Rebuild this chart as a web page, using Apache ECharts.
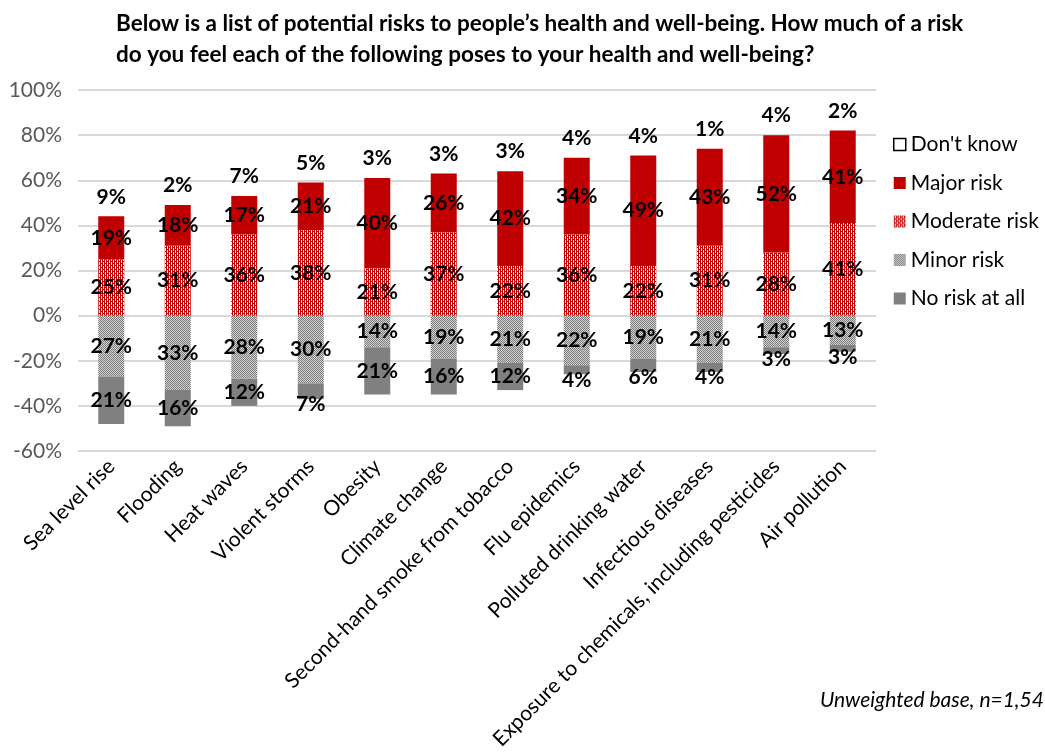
<!DOCTYPE html>
<html>
<head>
<meta charset="utf-8">
<script src="https://cdn.jsdelivr.net/npm/echarts@6/dist/echarts.min.js"></script>
<style>
  html, body { margin: 0; padding: 0; background: #fff; }
  #chart { width: 1045px; height: 754px; }
</style>
</head>
<body>
<div id="chart"></div>
<script>
// Survey categories, ordered by total perceived risk
const categories = [
  'Sea level rise', 'Flooding', 'Heat waves', 'Violent storms', 'Obesity',
  'Climate change', 'Second-hand smoke from tobacco', 'Flu epidemics',
  'Polluted drinking water', 'Infectious diseases',
  'Exposure to chemicals, including pesticides', 'Air pollution'
];
// Shares of respondents (%); risk answers stack upward, no-risk answers downward
const moderateRisk = [25, 31, 36, 38, 21, 37, 22, 36, 22, 31, 28, 41];
const majorRisk    = [19, 18, 17, 21, 40, 26, 42, 34, 49, 43, 52, 41];
const dontKnow     = [9, 2, 7, 5, 3, 3, 3, 4, 4, 1, 4, 2];
const minorRisk    = [-27, -33, -28, -30, -14, -19, -21, -22, -19, -21, -14, -13];
const noRisk       = [-21, -16, -12, -7, -21, -16, -12, -4, -6, -4, -3, -3];
const yTicks = { min: -60, max: 100, step: 20 };

const FONT = 'Lato, "Open Sans", "Liberation Sans", sans-serif';

// Small repeating fills for the hatched segments
function makePattern(w, h, bg, fg, dots) {
  const c = document.createElement('canvas');
  c.width = w; c.height = h;
  const ctx = c.getContext('2d');
  ctx.fillStyle = bg; ctx.fillRect(0, 0, w, h);
  ctx.fillStyle = fg;
  dots.forEach(([x, y]) => ctx.fillRect(x, y, 1, 1));
  return { image: c, repeat: 'repeat' };
}
const moderateFill = makePattern(4, 4, '#C00000', '#ffffff',
  [[1, 0], [3, 0], [1, 2], [3, 2], [1, 1], [3, 3]]);
const minorFill = makePattern(2, 2, '#d4d4d4', '#7a7a7a', [[0, 0], [1, 1]]);

const pctLabel = p => Math.abs(p.value) + '%';
const labelBase = {
  show: true, formatter: pctLabel, color: '#000',
  fontFamily: FONT, fontWeight: 'bold', fontSize: 21
};

const chart = echarts.init(document.getElementById('chart'), null, { renderer: 'canvas' });
chart.setOption({
  animation: false,
  backgroundColor: '#fff',
  textStyle: { fontFamily: FONT },
  title: {
    text: 'Below is a list of potential risks to people\u2019s health and well-being. How much of a risk\ndo you feel each of the following poses to your health and well-being?',
    left: 111, top: 3,
    textStyle: { fontFamily: FONT, fontWeight: 'bold', fontSize: 22.5, lineHeight: 31, color: '#000' }
  },
  legend: {
    orient: 'vertical', left: 888, top: 129,
    itemWidth: 12, itemHeight: 12, itemGap: 17.5,
    textStyle: { fontFamily: FONT, fontSize: 21, color: '#000' },
    data: [
      { name: "Don't know", icon: 'rect', itemStyle: { color: '#fff', borderColor: '#000', borderWidth: 1.5 } },
      { name: 'Major risk', icon: 'rect' },
      { name: 'Moderate risk', icon: 'rect' },
      { name: 'Minor risk', icon: 'rect' },
      { name: 'No risk at all', icon: 'rect' }
    ]
  },
  grid: { left: 78, right: 169, top: 90, bottom: 303 },
  xAxis: {
    type: 'category', data: categories,
    axisLine: { show: false, onZero: false },
    axisTick: { show: false },
    axisLabel: { rotate: 45, interval: 0, fontSize: 21, color: '#000', fontFamily: FONT, margin: 12 }
  },
  yAxis: {
    type: 'value', min: yTicks.min, max: yTicks.max, interval: yTicks.step,
    axisLine: { show: false }, axisTick: { show: false },
    axisLabel: { formatter: '{value}%', fontSize: 21, color: '#595959', fontFamily: FONT, margin: 16 },
    splitLine: { lineStyle: { color: '#d9d9d9', width: 2 } }
  },
  series: [
    {
      name: 'Moderate risk', type: 'bar', stack: 'risk', barWidth: 26,
      data: moderateRisk, itemStyle: { color: moderateFill },
      label: Object.assign({ position: 'inside' }, labelBase)
    },
    {
      name: 'Major risk', type: 'bar', stack: 'risk',
      data: majorRisk, itemStyle: { color: '#C00000' },
      label: Object.assign({ position: 'inside' }, labelBase)
    },
    {
      name: "Don't know", type: 'bar', stack: 'risk',
      data: dontKnow, itemStyle: { color: 'rgba(255,255,255,0)' },
      label: Object.assign({ position: 'insideBottom', distance: 9 }, labelBase)
    },
    {
      name: 'Minor risk', type: 'bar', stack: 'risk',
      data: minorRisk, itemStyle: { color: minorFill },
      label: Object.assign({ position: 'inside' }, labelBase)
    },
    {
      name: 'No risk at all', type: 'bar', stack: 'risk',
      data: noRisk.map(v => Math.abs(v) < 10
        ? { value: v, label: { position: 'insideBottom', offset: [0, 21] } }
        : v),
      itemStyle: { color: '#808080' },
      label: Object.assign({ position: 'inside' }, labelBase)
    }
  ],
  graphic: [{
    type: 'text', left: 820, top: 690,
    style: { text: 'Unweighted base, n=1,54', fontFamily: FONT, fontStyle: 'italic', fontSize: 21, fill: '#000' }
  }]
});
</script>
</body>
</html>
